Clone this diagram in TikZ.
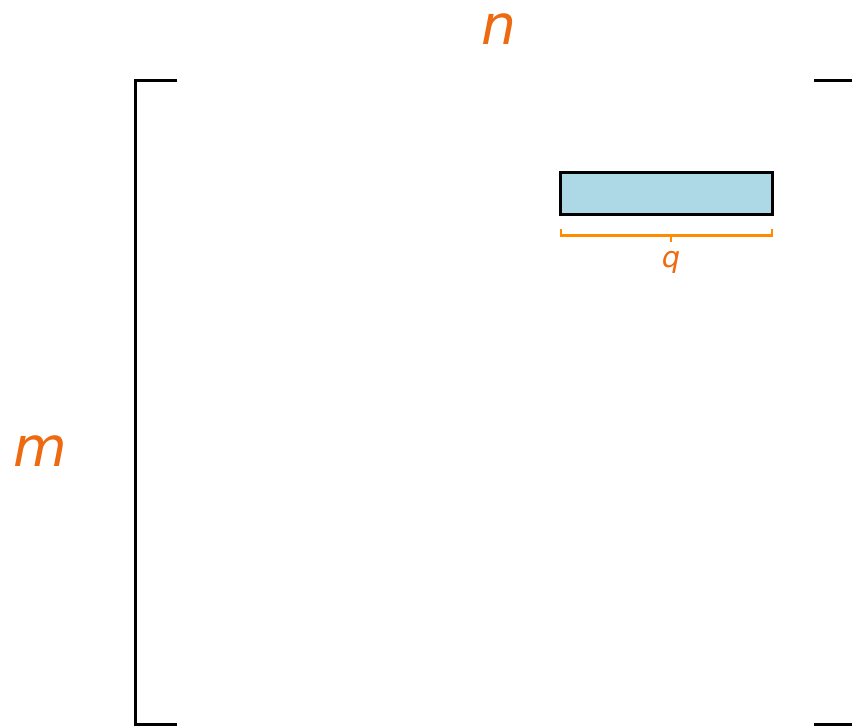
\documentclass[tikz,border=0pt]{standalone}
\usepackage{fontspec}
\setmainfont{DejaVu Sans}
\definecolor{lbl}{RGB}{238,106,16}
\definecolor{brc}{RGB}{255,140,0}
\definecolor{cell}{RGB}{173,216,230}
\tikzset{
  bracket/.style={draw=black, line width=3pt, line cap=butt, line join=miter},
  blockbox/.style={draw=black, fill=cell, line width=3pt},
  bracemark/.style={draw=brc, line width=2.6pt},
  biglabel/.style={text=lbl, font=\fontsize{55}{60}\selectfont\itshape, inner sep=0pt, anchor=base},
  smalllabel/.style={text=lbl, font=\fontsize{29}{32}\selectfont\itshape, inner sep=0pt, anchor=base}
}
\begin{document}
\begin{tikzpicture}[x=1pt,y=-1pt]
\useasboundingbox (0,0) rectangle (852,726);
% brackets
\coordinate (lt) at (177,80);
\coordinate (ltc) at (135,80);
\coordinate (lbc) at (135,724);
\coordinate (lb) at (177,724);
\draw[bracket] (lt) -- (ltc) -- (lbc) -- (lb);
\coordinate (rt) at (814,80);
\coordinate (rtc) at (856,80);
\coordinate (rbc) at (856,724);
\coordinate (rb) at (814,724);
\draw[bracket] (rt) -- (rtc) -- (rbc) -- (rb);
% block
\node[blockbox, minimum width=212pt, minimum height=42pt, inner sep=0pt, outer sep=0pt] (blk) at (666,193) {};
% brace
\coordinate (bl) at (561,229);
\coordinate (bl2) at (561,235.5);
\coordinate (br2) at (772,235.5);
\coordinate (br) at (772,229);
\coordinate (bm) at (671,235.5);
\coordinate (bmd) at (671,242);
\draw[bracemark] (bl) -- (bl2) -- (br2) -- (br);
\draw[bracemark] (bm) -- (bmd);
% labels
\node[biglabel] (nlab) at (499,44) {n};
\node[biglabel] (mlab) at (40,466) {m};
\node[smalllabel] (qlab) at (671,267) {q};
\end{tikzpicture}
\end{document}
